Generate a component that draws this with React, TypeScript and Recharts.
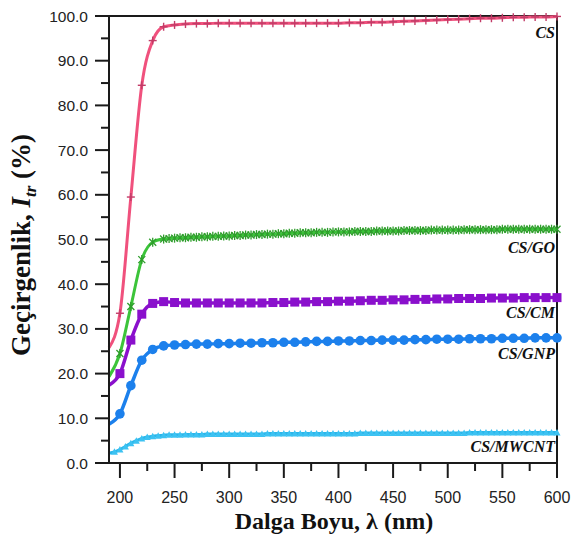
import React from 'react';
import { LineChart, Line, XAxis, YAxis, ReferenceLine, LabelList } from 'recharts';

// wavelengths (nm), 10 nm step
const wl10 = [190, 200, 210, 220, 230, 240, 250, 260, 270, 280, 290, 300, 310, 320, 330, 340, 350, 360, 370, 380, 390,
  400, 410, 420, 430, 440, 450, 460, 470, 480, 490, 500, 510, 520, 530, 540, 550, 560, 570, 580, 590, 600];

// 5 nm step (CS/MWCNT)
const wl5 = [190, 195, 200, 205, 210, 215, 220, 225, 230, 235, 240, 245, 250, 255, 260, 265, 270, 275, 280, 285, 290,
  295, 300, 305, 310, 315, 320, 325, 330, 335, 340, 345, 350, 355, 360, 365, 370, 375, 380, 385, 390, 395, 400, 405,
  410, 415, 420, 425, 430, 435, 440, 445, 450, 455, 460, 465, 470, 475, 480, 485, 490, 495, 500, 505, 510, 515, 520,
  525, 530, 535, 540, 545, 550, 555, 560, 565, 570, 575, 580, 585, 590, 595, 600];

// CS/GO is sampled denser after 240 nm
const wlGO = [190, 200, 210, 220, 230, 240, 245, 250, 255, 260, 265, 270, 275, 280, 285, 290, 295, 300, 305, 310, 315,
  320, 325, 330, 335, 340, 345, 350, 355, 360, 365, 370, 375, 380, 385, 390, 395, 400, 405, 410, 415, 420, 425, 430,
  435, 440, 445, 450, 455, 460, 465, 470, 475, 480, 485, 490, 495, 500, 505, 510, 515, 520, 525, 530, 535, 540, 545,
  550, 555, 560, 565, 570, 575, 580, 585, 590, 595, 600];

const csVals = [25.8, 33.5, 59.5, 84.5, 94.5, 97.6, 98.0, 98.2, 98.3, 98.3, 98.4, 98.4, 98.4, 98.4, 98.4, 98.4, 98.4,
  98.4, 98.4, 98.4, 98.4, 98.4, 98.5, 98.5, 98.6, 98.6, 98.7, 98.8, 98.9, 99.0, 99.1, 99.2, 99.3, 99.4, 99.5, 99.5,
  99.6, 99.7, 99.7, 99.8, 99.8, 99.9];

const goVals = [19.3, 24.5, 35.0, 45.5, 49.4, 50.1, 50.2, 50.3, 50.4, 50.4, 50.5, 50.5, 50.6, 50.6, 50.7, 50.7, 50.8,
  50.8, 50.9, 50.9, 51.0, 51.0, 51.1, 51.1, 51.2, 51.2, 51.3, 51.3, 51.4, 51.4, 51.5, 51.5, 51.5, 51.6, 51.6, 51.6,
  51.7, 51.7, 51.7, 51.7, 51.8, 51.8, 51.8, 51.8, 51.9, 51.9, 51.9, 51.9, 51.9, 52.0, 52.0, 52.0, 52.0, 52.0, 52.1,
  52.1, 52.1, 52.1, 52.1, 52.1, 52.2, 52.2, 52.2, 52.2, 52.2, 52.2, 52.2, 52.3, 52.3, 52.3, 52.3, 52.3, 52.3, 52.3,
  52.3, 52.3, 52.3, 52.3];

const cmVals = [17.4, 20.0, 27.5, 33.3, 35.7, 36.1, 35.9, 35.8, 35.8, 35.8, 35.8, 35.8, 35.8, 35.8, 35.8, 35.9, 35.9,
  36.0, 36.0, 36.1, 36.1, 36.2, 36.2, 36.3, 36.4, 36.4, 36.5, 36.5, 36.6, 36.6, 36.7, 36.7, 36.8, 36.8, 36.8, 36.9,
  36.9, 36.9, 37.0, 37.0, 37.0, 37.0];

const gnpVals = [8.7, 11.0, 17.3, 23.0, 25.4, 26.2, 26.4, 26.5, 26.6, 26.6, 26.7, 26.7, 26.8, 26.8, 26.9, 26.9, 27.0,
  27.0, 27.1, 27.2, 27.2, 27.3, 27.3, 27.4, 27.4, 27.5, 27.5, 27.5, 27.6, 27.6, 27.7, 27.7, 27.7, 27.8, 27.8, 27.8,
  27.9, 27.9, 27.9, 28.0, 28.0, 28.0];

const mwcntVals = [2.2, 2.5, 3.0, 3.7, 4.4, 5.0, 5.5, 5.8, 6.0, 6.1,
  6.2, 6.3, 6.3, 6.3, 6.4, 6.4, 6.4, 6.4, 6.5, 6.5,
  6.5, 6.5, 6.5, 6.5, 6.5, 6.5, 6.5, 6.5, 6.5, 6.6,
  6.6, 6.6, 6.6, 6.6, 6.6, 6.6, 6.6, 6.6, 6.6, 6.6,
  6.6, 6.6, 6.6, 6.6, 6.6, 6.6, 6.7, 6.7, 6.7, 6.7,
  6.7, 6.7, 6.7, 6.7, 6.7, 6.7, 6.7, 6.7, 6.7, 6.7,
  6.7, 6.7, 6.7, 6.7, 6.7, 6.7, 6.8, 6.8, 6.8, 6.8,
  6.8, 6.8, 6.8, 6.8, 6.8, 6.8, 6.8, 6.8, 6.8, 6.8,
  6.8, 6.8, 6.8];

const yTicks = [0, 5, 10, 15, 20, 25, 30, 35, 40, 45, 50, 55, 60, 65, 70, 75, 80, 85, 90, 95, 100];
const xTicks = [200, 225, 250, 275, 300, 325, 350, 375, 400, 425, 450, 475, 500, 525, 550, 575, 600];

const csData = wl10.map((wl, i) => ({ wl, v: csVals[i] }));
const goData = wlGO.map((wl, i) => ({ wl, v: goVals[i] }));
const cmData = wl10.map((wl, i) => ({ wl, v: cmVals[i] }));
const gnpData = wl10.map((wl, i) => ({ wl, v: gnpVals[i] }));
const mwcntData = wl5.map((wl, i) => ({ wl, v: mwcntVals[i] }));

const AXIS = '#1a1a1a';
const SERIF = '"Liberation Serif", "Times New Roman", serif';
const SANS = '"Liberation Sans", Arial, sans-serif';

const YTick = (props: any) => {
  const { x, y, payload } = props;
  const major = payload.value % 10 === 0;
  return (
    <g>
      <line x1={x} x2={x - (major ? 14 : 8)} y1={y} y2={y} stroke={AXIS} strokeWidth={2} />
      {major && (
        <text x={x - 21} y={y + 5.5} textAnchor="end" fontSize={15.5} fontFamily={SANS} fill="#222">
          {payload.value.toFixed(1)}
        </text>
      )}
    </g>
  );
};

const XTick = (props: any) => {
  const { x, y, payload } = props;
  const major = payload.value % 50 === 0;
  return (
    <g>
      <line x1={x} x2={x} y1={y} y2={y + (major ? 15 : 8)} stroke={AXIS} strokeWidth={2} />
      {major && (
        <text x={x} y={y + 40} textAnchor="middle" fontSize={16} fontFamily={SANS} fill="#222">
          {payload.value}
        </text>
      )}
    </g>
  );
};

const plusDot = (p: any) => {
  const { cx, cy, index } = p;
  if (index === 0) return <g key={`cs${index}`} />;
  return (
    <g key={`cs${index}`} stroke="#c23c68" strokeWidth={1.4}>
      <line x1={cx - 4} x2={cx + 4} y1={cy} y2={cy} />
      <line x1={cx} x2={cx} y1={cy - 4} y2={cy + 4} />
    </g>
  );
};

const starDot = (p: any) => {
  const { cx, cy, index } = p;
  if (index === 0) return <g key={`go${index}`} />;
  return (
    <g key={`go${index}`} stroke="#2f9e2c" strokeWidth={1.3}>
      <line x1={cx - 3.5} x2={cx + 3.5} y1={cy - 3.5} y2={cy + 3.5} />
      <line x1={cx - 3.5} x2={cx + 3.5} y1={cy + 3.5} y2={cy - 3.5} />
      <line x1={cx} x2={cx} y1={cy - 4.5} y2={cy + 4.5} />
    </g>
  );
};

const squareDot = (p: any) => {
  const { cx, cy, index } = p;
  if (index === 0) return <g key={`cm${index}`} />;
  return <rect key={`cm${index}`} x={cx - 4.5} y={cy - 4.5} width={9} height={9} fill="#8a10cc" />;
};

const circleDot = (p: any) => {
  const { cx, cy, index } = p;
  if (index === 0) return <g key={`gnp${index}`} />;
  return <circle key={`gnp${index}`} cx={cx} cy={cy} r={4.8} fill="#1c80ec" />;
};

const triDot = (p: any) => {
  const { cx, cy, index } = p;
  if (index === 0) return <g key={`mw${index}`} />;
  return (
    <path key={`mw${index}`} d={`M${cx - 3.5},${cy + 3} L${cx + 3.5},${cy + 3} L${cx},${cy - 3.5} Z`} fill="#3cc2f2" />
  );
};

const seriesLabel = (text: string, lastIndex: number, dy: number) => (p: any) => {
  const { x, y, index } = p;
  if (index !== lastIndex) return null;
  return (
    <text x={x - 2} y={y + dy} textAnchor="end" fontSize={16} fontFamily={SERIF} fontWeight="bold"
      fontStyle="italic" fill="#111">
      {text}
    </text>
  );
};

export default function App() {
  return (
    <div style={{ position: 'absolute', left: 0, top: 0, background: '#fff' }}>
      <LineChart width={577} height={537} margin={{ top: 16, right: 20, bottom: 0, left: 0 }}>
        <XAxis dataKey="wl" type="number" domain={[190, 600]} ticks={xTicks} interval={0} height={74}
          tickSize={0} tickMargin={0} tick={XTick} axisLine={{ stroke: AXIS, strokeWidth: 2 }} tickLine={false} />
        <YAxis type="number" domain={[0, 100]} ticks={yTicks} interval={0} width={109}
          tickSize={0} tickMargin={0} tick={YTick} axisLine={{ stroke: AXIS, strokeWidth: 2 }} tickLine={false} />
        <ReferenceLine y={100} stroke={AXIS} strokeWidth={2} />
        <ReferenceLine x={600} stroke={AXIS} strokeWidth={2} />

        <Line data={mwcntData} dataKey="v" type="monotone" stroke="#2ab6ea" strokeWidth={3} dot={triDot}
          activeDot={false} isAnimationActive={false}>
          <LabelList dataKey="v" content={seriesLabel('CS/MWCNT', mwcntData.length - 1, 19)} />
        </Line>
        <Line data={gnpData} dataKey="v" type="monotone" stroke="#1c80ec" strokeWidth={3.5} dot={circleDot}
          activeDot={false} isAnimationActive={false}>
          <LabelList dataKey="v" content={seriesLabel('CS/GNP', gnpData.length - 1, 21)} />
        </Line>
        <Line data={cmData} dataKey="v" type="monotone" stroke="#8a10cc" strokeWidth={3.5} dot={squareDot}
          activeDot={false} isAnimationActive={false}>
          <LabelList dataKey="v" content={seriesLabel('CS/CM', cmData.length - 1, 20)} />
        </Line>
        <Line data={goData} dataKey="v" type="monotone" stroke="#3cc43a" strokeWidth={3} dot={starDot}
          activeDot={false} isAnimationActive={false}>
          <LabelList dataKey="v" content={seriesLabel('CS/GO', goData.length - 1, 24)} />
        </Line>
        <Line data={csData} dataKey="v" type="monotone" stroke="#f0517d" strokeWidth={3} dot={plusDot}
          activeDot={false} isAnimationActive={false}>
          <LabelList dataKey="v" content={seriesLabel('CS', csData.length - 1, 22)} />
        </Line>

        <text x={334} y={529} textAnchor="middle" fontSize={24} fontWeight="bold" fontFamily={SERIF} fill="#111">
          Dalga Boyu, λ (nm)
        </text>
        <text transform="translate(30,245) rotate(-90)" textAnchor="middle" fontSize={27} fontWeight="bold"
          fontFamily={SERIF} fill="#111">
          Geçirgenlik, <tspan fontStyle="italic">I</tspan>
          <tspan fontStyle="italic" fontSize={17} dy={6}>tr</tspan>
          <tspan dy={-6}> (%)</tspan>
        </text>
      </LineChart>
    </div>
  );
}
